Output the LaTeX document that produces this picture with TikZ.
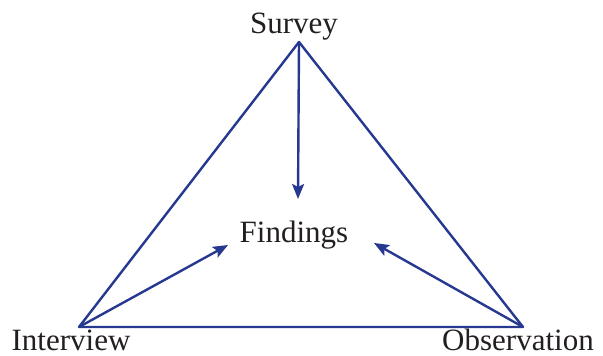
\documentclass[tikz,border=0pt]{standalone}
\usepackage{fontspec}
\setmainfont{Liberation Serif}
\usetikzlibrary{arrows.meta}
\definecolor{TriBlue}{RGB}{38,56,144}
\definecolor{InkBlack}{RGB}{35,31,32}

\begin{document}
\begin{tikzpicture}[x=1pt,y=-1pt,
    edge/.style={TriBlue,line width=2.4pt,line join=round},
    arr/.style={edge,-{Stealth[length=15pt,width=12pt,inset=3pt]}},
    lbl/.style={text=InkBlack,font=\fontsize{31}{33}\selectfont,inner sep=0pt,anchor=base}]
  \useasboundingbox (0,0) rectangle (603,356);
  % corners of the triangle
  \coordinate (sur) at (299,42);
  \coordinate (int) at (79,327);
  \coordinate (obs) at (523,327);
  % arrow ends near the centre
  \coordinate (topend) at (298,199);
  \coordinate (leftend) at (228,245);
  \coordinate (rightend) at (374,243);
  \node[lbl] (survey) at (294,34) {Survey};
  \node[lbl] (find) at (294,242) {Findings};
  \node[lbl] (interview) at (71,350) {Interview};
  \node[lbl] (observ) at (518,350) {Observation};
  \draw[edge] (sur) -- (int) -- (obs) -- cycle;
  \draw[arr] (sur) -- (topend);
  \draw[arr] (int) -- (leftend);
  \draw[arr] (obs) -- (rightend);
\end{tikzpicture}
\end{document}
